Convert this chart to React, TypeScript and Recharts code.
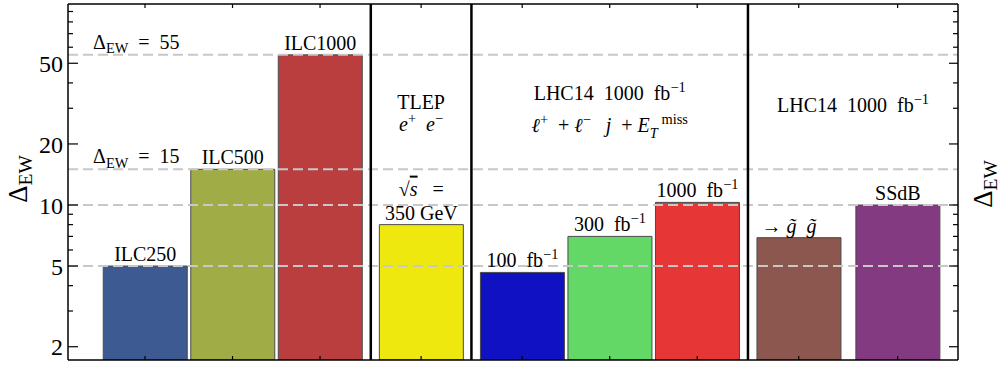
import React from 'react';
import { ComposedChart, Bar, Cell, XAxis, YAxis, ReferenceLine, ReferenceArea, LabelList } from 'recharts';

const FONT = '"Liberation Serif", "Times New Roman", serif';
const SP = '\u00A0';

type Part = { t: string; sup?: boolean; sub?: boolean; it?: boolean; over?: boolean };

// bars, left to right
const names = ['ILC250', 'ILC500', 'ILC1000', 'TLEP', 'LHC 100', 'LHC 300', 'LHC 1000', 'gluino', 'SSdB'];
const xSlots = [1, 2, 3, 4.155, 5.31, 6.31, 7.31, 8.47, 9.6];
const deltaEW = [5, 15, 55, 8, 4.65, 7, 10.3, 6.9, 10];
const barColors = ['#3E5A93', '#A0AC46', '#BA3E3E', '#EEE80F', '#1111C4', '#63D866', '#E63636', '#8B574E', '#843A81'];
const barLabels: Part[][][] = [
  [[{ t: 'ILC250' }]],
  [[{ t: 'ILC500' }]],
  [[{ t: 'ILC1000' }]],
  [[{ t: '√' }, { t: 's', it: true, over: true }, { t: SP + SP + ' =' }], [{ t: '350 GeV' }]],
  [[{ t: '100' + SP + ' fb' }, { t: '−1', sup: true }]],
  [[{ t: '300' + SP + ' fb' }, { t: '−1', sup: true }]],
  [[{ t: '1000' + SP + ' fb' }, { t: '−1', sup: true }]],
  [[{ t: '→ ' }, { t: 'g\u0303' + SP + ' g\u0303', it: true }, { t: SP + SP + SP + SP }]],
  [[{ t: 'SSdB' }]],
];

// groups separated by black lines
const groupEdges = [0.12, 3.58, 4.73, 7.89, 10.29];
const groupTitles: Part[][][] = [
  [],
  [[{ t: 'TLEP' }], [{ t: 'e', it: true }, { t: '+', sup: true }, { t: SP + ' e', it: true }, { t: '−', sup: true }]],
  [
    [{ t: 'LHC14' + SP + ' 1000' + SP + ' fb' }, { t: '−1', sup: true }],
    [
      { t: 'ℓ', it: true }, { t: '+', sup: true }, { t: SP + ' + ' }, { t: 'ℓ', it: true }, { t: '−', sup: true },
      { t: SP + SP + ' j', it: true }, { t: SP + ' + ' }, { t: 'E', it: true }, { t: 'T', it: true, sub: true }, { t: SP + 'miss', sup: true },
    ],
  ],
  [[{ t: 'LHC14' + SP + ' 1000' + SP + ' fb' }, { t: '−1', sup: true }]],
];

const yTicksMajor = [2, 5, 10, 20, 50];
const yTicksAll = [2, 3, 4, 5, 6, 7, 8, 9, 10, 20, 30, 40, 50, 60, 70, 80, 90];
const refLevels = [55, 15, 10, 5];
const refLabels: Record<number, string> = { 55: '55', 15: '15' };

const data = names.map((name, i) => ({ name, x: xSlots[i], value: deltaEW[i] }));

const rich = (parts: Part[], size: number, subShift = 0.28) => {
  let shift = 0;
  return parts.map((p, i) => {
    const target = p.sup ? -0.42 * size : p.sub ? subShift * size : 0;
    const dy = target - shift;
    shift = target;
    return (
      <tspan
        key={i}
        dy={dy}
        fontSize={p.sup || p.sub ? size * 0.72 : size}
        fontStyle={p.it ? 'italic' : undefined}
        style={p.over ? { textDecoration: 'overline' } : undefined}
      >
        {p.t}
      </tspan>
    );
  });
};

const LeftTick = (props: any) => {
  const { x, y, payload } = props;
  const major = yTicksMajor.includes(payload.value);
  return (
    <g>
      <line x1={x} x2={x + (major ? 10 : 5)} y1={y} y2={y} stroke="#000" strokeWidth={1.2} />
      {major && (
        <text x={x - 5} y={y} dy="0.36em" textAnchor="end" fontSize={24} fontFamily={FONT} fill="#000">
          {payload.value}
        </text>
      )}
    </g>
  );
};

const RightTick = (props: any) => {
  const { x, y, payload } = props;
  const major = yTicksMajor.includes(payload.value);
  return <line x1={x} x2={x - (major ? 9 : 5)} y1={y} y2={y} stroke="#000" strokeWidth={1.2} />;
};

const BottomTick = (props: any) => {
  const { x, y } = props;
  return <line x1={x} x2={x} y1={y} y2={y - 4} stroke="#000" strokeWidth={1.2} />;
};

const TopTick = (props: any) => {
  const { x, y } = props;
  return <line x1={x} x2={x} y1={y} y2={y + 4} stroke="#000" strokeWidth={1.2} />;
};

const BarLabel = (props: any) => {
  const { x, y, width, value } = props;
  const lines = barLabels[names.indexOf(value)] || [];
  const cx = Number(x) + Number(width) / 2;
  return (
    <g>
      {lines.map((line, i) => (
        <text
          key={i}
          x={cx}
          y={Number(y) - 5 - (lines.length - 1 - i) * 24}
          textAnchor="middle"
          fontSize={20}
          fontFamily={FONT}
          fill="#000"
        >
          {rich(line, 20)}
        </text>
      ))}
    </g>
  );
};

const titleBaselines = [[], [105, 127], [96, 128], [108]];

const GroupTitle = (gi: number) => (props: any) => {
  const vb = props.viewBox;
  if (!vb) return null;
  const lines = groupTitles[gi];
  const cx = vb.x + vb.width / 2;
  return (
    <g>
      {lines.map((line, i) => (
        <text key={i} x={cx} y={vb.y + titleBaselines[gi][i]} textAnchor="middle" fontSize={20} fontFamily={FONT} fill="#000">
          {rich(line, 20)}
        </text>
      ))}
    </g>
  );
};

const LevelLabel = (level: number) => (props: any) => {
  const vb = props.viewBox;
  if (!vb || !refLabels[level]) return null;
  return (
    <text x={vb.x + 25} y={vb.y - 6} fontSize={20} fontFamily={FONT} fill="#000">
      {rich([{ t: 'Δ' }, { t: 'EW', sub: true }, { t: SP + ' =' + SP + ' ' + refLabels[level] }], 20, 0.22)}
    </text>
  );
};

const AxisTitle = (side: 'left' | 'right') => (props: any) => {
  const vb = props.viewBox;
  if (!vb) return null;
  const bx = side === 'left' ? 27 : 992;
  const cy = side === 'left' ? 179 : 184;
  return (
    <text x={bx} y={cy} textAnchor="middle" transform={`rotate(-90 ${bx} ${cy})`} fontSize={27} fontFamily={FONT} fill="#000">
      {rich([{ t: 'Δ' }, { t: 'EW', sub: true }], 27, 0.18)}
    </text>
  );
};

const axisLine = { stroke: '#000', strokeWidth: 1.5 };
const xDomain = [groupEdges[0], groupEdges[groupEdges.length - 1]];
const yDomain = [1.72, 98];

export default function App() {
  return (
    <div style={{ position: 'absolute', left: 0, top: 0, width: 1000, height: 365, background: '#fff' }}>
      <ComposedChart width={1000} height={365} data={data} margin={{ top: 0, right: 0, bottom: 0, left: 0 }}>
        <XAxis
          dataKey="x"
          type="number"
          domain={xDomain}
          allowDataOverflow
          ticks={xSlots}
          interval={0}
          height={5}
          tickSize={0}
          tickMargin={0}
          tickLine={false}
          axisLine={axisLine}
          tick={<BottomTick />}
        />
        <XAxis
          xAxisId="top"
          orientation="top"
          dataKey="x"
          type="number"
          domain={xDomain}
          allowDataOverflow
          ticks={xSlots}
          interval={0}
          height={4}
          tickSize={0}
          tickMargin={0}
          tickLine={false}
          axisLine={axisLine}
          tick={<TopTick />}
        />
        <YAxis
          type="number"
          scale="log"
          domain={yDomain}
          allowDataOverflow
          ticks={yTicksAll}
          interval={0}
          width={68}
          tickSize={0}
          tickMargin={0}
          tickLine={false}
          axisLine={axisLine}
          tick={<LeftTick />}
          label={{ content: AxisTitle('left') }}
        />
        <YAxis
          yAxisId="right"
          orientation="right"
          type="number"
          scale="log"
          domain={yDomain}
          allowDataOverflow
          ticks={yTicksAll}
          interval={0}
          width={42}
          tickSize={0}
          tickMargin={0}
          tickLine={false}
          axisLine={axisLine}
          tick={<RightTick />}
          label={{ content: AxisTitle('right') }}
        />
        {groupTitles.map((_, gi) => (
          <ReferenceArea
            key={'g' + gi}
            x1={groupEdges[gi]}
            x2={groupEdges[gi + 1]}
            fill="none"
            fillOpacity={0}
            stroke="none"
            label={{ content: GroupTitle(gi) }}
          />
        ))}
        <Bar dataKey="value" barSize={84} isAnimationActive={false} stroke="#4a4a4a" strokeWidth={1}>
          {data.map((d, i) => (
            <Cell key={d.name} fill={barColors[i]} />
          ))}
          <LabelList dataKey="name" content={<BarLabel />} />
        </Bar>
        {refLevels.map((lv) => (
          <ReferenceLine
            key={'l' + lv}
            y={lv}
            stroke="#c8c8c8"
            strokeWidth={2}
            strokeDasharray="10 5"
            label={{ content: LevelLabel(lv) }}
          />
        ))}
        {groupEdges.slice(1, -1).map((e) => (
          <ReferenceLine key={'s' + e} x={e} stroke="#000" strokeWidth={2.5} />
        ))}
      </ComposedChart>
    </div>
  );
}
